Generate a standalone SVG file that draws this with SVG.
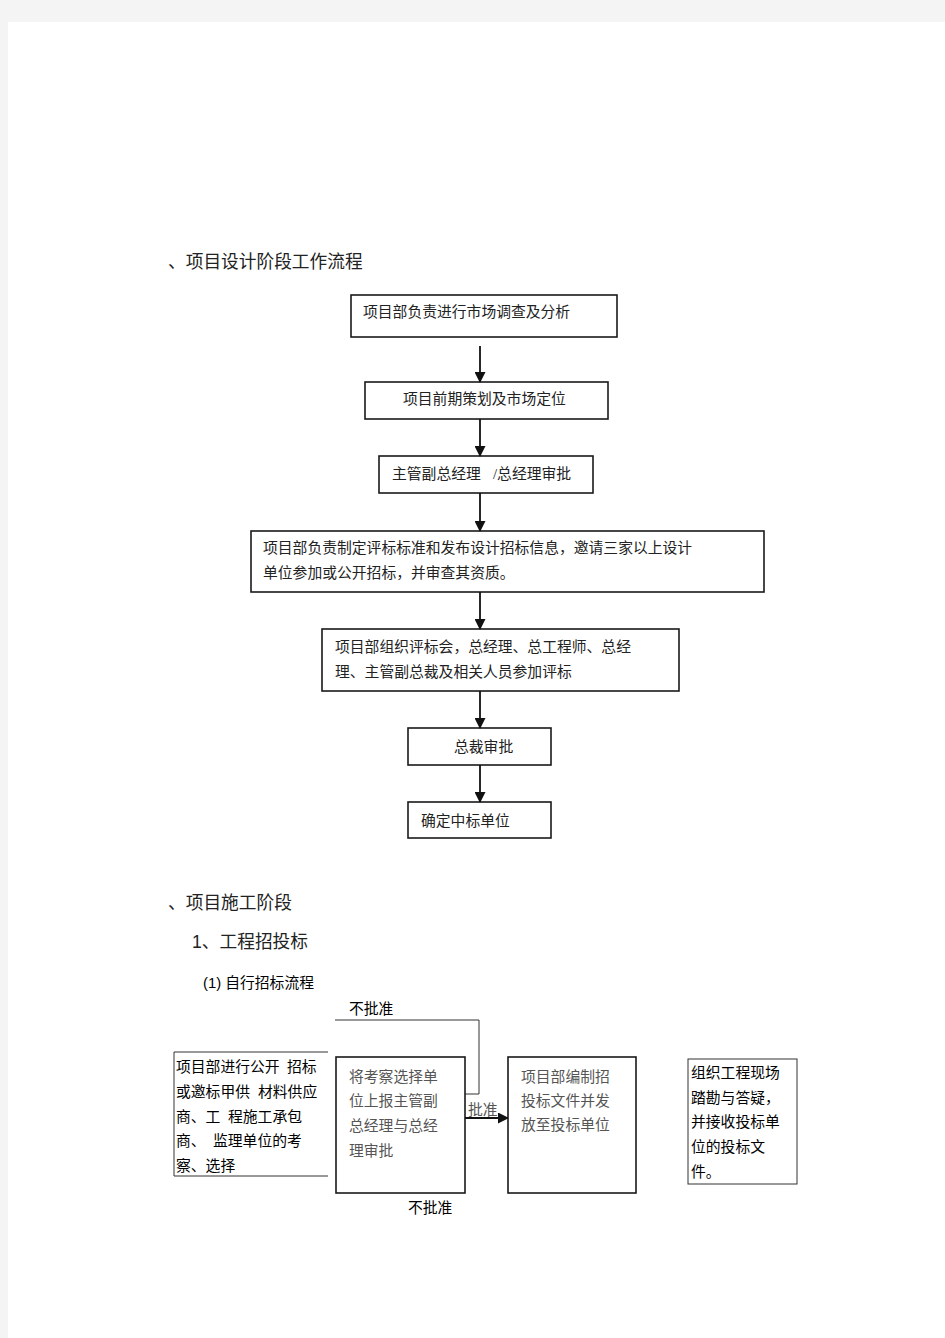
<svg xmlns="http://www.w3.org/2000/svg" width="945" height="1338" viewBox="0 0 945 1338">
<style>
.box{fill:#fff;stroke:#1a1a1a;stroke-width:1.6}
.t{font-family:"Liberation Serif","Noto Sans CJK SC",serif;font-size:14.8px;fill:#222}
.g{font-family:"Liberation Serif","Noto Sans CJK SC",serif;font-size:14.8px;fill:#555}
.s{font-family:"Liberation Sans","Noto Sans CJK SC",sans-serif;font-size:14.8px;fill:#000}
.h{font-family:"Liberation Sans","Noto Sans CJK SC",sans-serif;font-size:17.7px;fill:#222}
.c{fill:none;stroke:#111;stroke-width:1.8}
.thin{fill:none;stroke:#333;stroke-width:1}
</style>
<defs>
<marker id="ah" markerWidth="11" markerHeight="11" refX="10" refY="5.5" orient="auto" markerUnits="userSpaceOnUse">
<path d="M0,0 L11,5.5 L0,11 Z" fill="#111"/>
</marker>
</defs>
<rect x="0" y="0" width="945" height="1338" fill="#f4f4f4"/>
<rect x="8" y="22" width="937" height="1316" fill="#fff"/>

<text class="h" x="168" y="268">、项目设计阶段工作流程</text>

<g id="n1"><rect class="box" x="351" y="295" width="266" height="42"/><text class="t" x="363" y="317">项目部负责进行市场调查及分析</text></g>
<g id="n2"><rect class="box" x="365" y="382" width="243" height="37"/><text class="t" x="403" y="404">项目前期策划及市场定位</text></g>
<g id="n3"><rect class="box" x="379" y="456" width="214" height="37"/><text class="t" x="392" y="479">主管副总经理</text><text class="t" x="493" y="479">/总经理审批</text></g>
<g id="n4"><rect class="box" x="251" y="531" width="513" height="61"/><text class="t" x="263" y="553">项目部负责制定评标标准和发布设计招标信息，邀请三家以上设计</text><text class="t" x="263" y="578">单位参加或公开招标，并审查其资质。</text></g>
<g id="n5"><rect class="box" x="322" y="629" width="357" height="62"/><text class="t" x="335" y="652">项目部组织评标会，总经理、总工程师、总经</text><text class="t" x="335" y="677">理、主管副总裁及相关人员参加评标</text></g>
<g id="n6"><rect class="box" x="408" y="728" width="143" height="37"/><text class="t" x="454" y="752">总裁审批</text></g>
<g id="n7"><rect class="box" x="408" y="802" width="143" height="36"/><text class="t" x="421" y="826">确定中标单位</text></g>

<g id="connectors">
<line class="c" x1="480" y1="346" x2="480" y2="382" marker-end="url(#ah)"/>
<line class="c" x1="480" y1="419" x2="480" y2="456" marker-end="url(#ah)"/>
<line class="c" x1="480" y1="493" x2="480" y2="531" marker-end="url(#ah)"/>
<line class="c" x1="480" y1="592" x2="480" y2="629" marker-end="url(#ah)"/>
<line class="c" x1="480" y1="691" x2="480" y2="728" marker-end="url(#ah)"/>
<line class="c" x1="480" y1="765" x2="480" y2="802" marker-end="url(#ah)"/>
<polyline class="thin" points="335,1020 479,1020 479,1094 465,1094"/>
<line class="c" x1="465" y1="1118" x2="508" y2="1118" marker-end="url(#ah)"/>
</g>

<text class="h" x="168" y="909">、项目施工阶段</text>
<text class="h" x="192" y="948">1、工程招投标</text>
<text class="s" x="203" y="988">(1) 自行招标流程</text>

<text class="s" x="349" y="1014">不批准</text>
<text class="s" x="408" y="1213">不批准</text>
<text class="g" x="468" y="1115">批准</text>

<g id="m1">
<polyline class="thin" points="328,1052 174,1052 174,1176 328,1176"/>
<text class="s" x="176" y="1072">项目部进行公开<tspan x="287">招标</tspan></text>
<text class="s" x="176" y="1097">或邀标甲供<tspan x="258">材料供应</tspan></text>
<text class="s" x="176" y="1122">商、工<tspan x="228">程施工承包</tspan></text>
<text class="s" x="176" y="1146">商、<tspan x="213">监理单位的考</tspan></text>
<text class="s" x="176" y="1171">察、选择</text>
</g>
<g id="m2"><rect class="box" x="336" y="1057" width="129" height="136"/>
<text class="g" x="349" y="1082">将考察选择单</text>
<text class="g" x="349" y="1106">位上报主管副</text>
<text class="g" x="349" y="1131">总经理与总经</text>
<text class="g" x="349" y="1156">理审批</text>
</g>
<g id="m3"><rect class="box" x="508" y="1057" width="128" height="136"/>
<text class="g" x="521" y="1082">项目部编制招</text>
<text class="g" x="521" y="1106">投标文件并发</text>
<text class="g" x="521" y="1130">放至投标单位</text>
</g>
<g id="m4"><rect x="688" y="1059" width="109" height="125" fill="#fff" stroke="#333" stroke-width="1"/>
<text class="s" x="691" y="1078">组织工程现场</text>
<text class="s" x="691" y="1103">踏勘与答疑，</text>
<text class="s" x="691" y="1127">并接收投标单</text>
<text class="s" x="691" y="1152">位的投标文</text>
<text class="s" x="691" y="1177">件。</text>
</g>
</svg>
